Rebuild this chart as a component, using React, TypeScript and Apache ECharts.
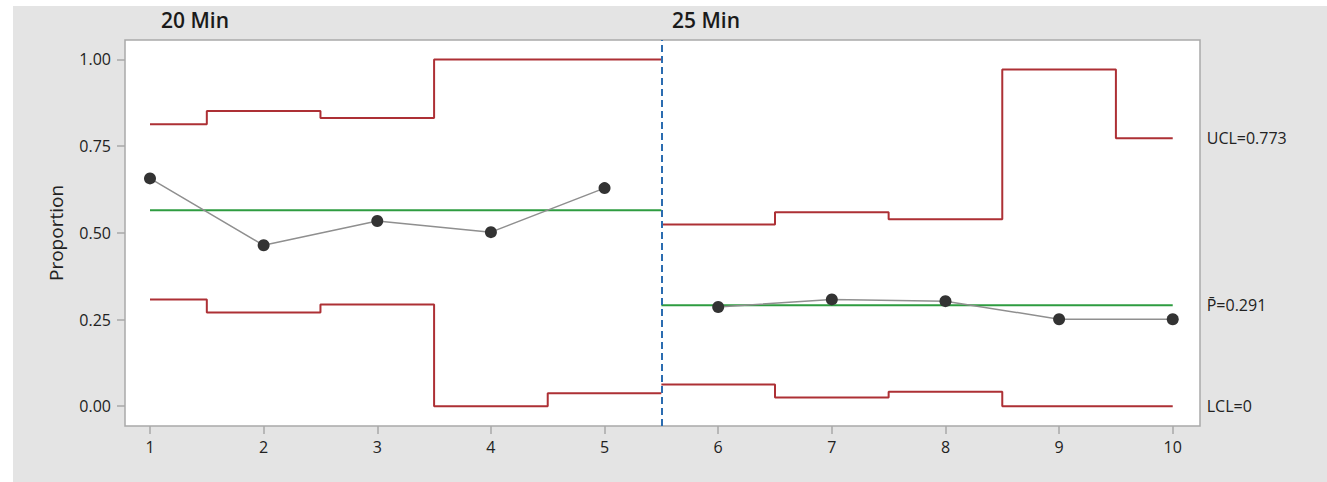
import React, { useEffect, useRef } from "react";
import * as echarts from "echarts";

// ---- data ----
const stageNames = ["20 Min", "25 Min"];
const stage1X = [1, 2, 3, 4, 5];
const stage2X = [6, 7, 8, 9, 10];
const stage1P = [0.657, 0.464, 0.534, 0.502, 0.629];
const stage2P = [0.286, 0.308, 0.303, 0.251, 0.251];
const stage1UCL = [0.813, 0.851, 0.831, 1.0, 1.0];
const stage2UCL = [0.524, 0.559, 0.539, 0.971, 0.773];
const stage1LCL = [0.308, 0.27, 0.293, 0, 0.0375];
const stage2LCL = [0.063, 0.025, 0.042, 0, 0];
const stageCenters = [0.565, 0.291];
const stageBoundary = 5.5;
const xTicks = [1, 2, 3, 4, 5, 6, 7, 8, 9, 10];
const yTicks = [0, 0.25, 0.5, 0.75, 1.0];

const FONT = "'Open Sans', 'Noto Sans', sans-serif";
const RED = "#ad3035";
const GREEN = "#2e9c40";
const BLUE = "#2b6cb0";
const TXT = "#222222";

function stepData(xs: number[], vals: number[], start: number, end: number) {
  const pts: number[][] = [[start, vals[0]]];
  for (let i = 0; i < xs.length; i++) {
    const right = i < xs.length - 1 ? (xs[i] + xs[i + 1]) / 2 : end;
    pts.push([right, vals[i]]);
    if (i < xs.length - 1) pts.push([right, vals[i + 1]]);
  }
  return pts;
}

function fmt(v: number) {
  return String(Number(v.toFixed(3)));
}

export default function App() {
  const ref = useRef<HTMLDivElement>(null);
  useEffect(() => {
    if (!ref.current) return;
    const chart = echarts.init(ref.current, undefined, { renderer: "svg" });
    const s1Start = stage1X[0];
    const s2End = stage2X[stage2X.length - 1];
    const endLbl = (label?: string) =>
      label
        ? {
            show: true,
            formatter: label,
            distance: 34,
            color: TXT,
            fontSize: 16,
            fontFamily: FONT,
          }
        : { show: false };
    const limitLine = (data: number[][], label?: string) => ({
      type: "line",
      data,
      symbol: "none",
      silent: true,
      lineStyle: { color: RED, width: 2 },
      z: 2,
      endLabel: endLbl(label),
    });
    const centerLine = (data: number[][], label?: string) => ({
      type: "line",
      data,
      symbol: "none",
      silent: true,
      lineStyle: { color: GREEN, width: 2 },
      z: 2,
      endLabel: endLbl(label),
    });
    const pointLine = (xs: number[], ps: number[]) => ({
      type: "line",
      data: xs.map((x, i) => [x, ps[i]]),
      symbol: "circle",
      symbolSize: 12,
      itemStyle: { color: "#333333" },
      lineStyle: { color: "#8f8f8f", width: 1.5 },
      z: 4,
    });

    chart.setOption({
      animation: false,
      backgroundColor: "transparent",
      grid: {
        left: 125,
        right: 127,
        top: 40,
        bottom: 56,
        show: true,
        backgroundColor: "#ffffff",
        borderColor: "#a9a9a9",
        borderWidth: 1.5,
      },
      xAxis: {
        type: "value",
        min: 0.78,
        max: 10.24,
        splitLine: { show: false },
        axisLine: { show: false, onZero: false },
        axisTick: {
          show: true,
          customValues: xTicks,
          length: 8,
          lineStyle: { color: "#a9a9a9", width: 1.5 },
        },
        axisLabel: {
          customValues: xTicks,
          margin: 13,
          color: TXT,
          fontSize: 16,
          fontFamily: FONT,
          formatter: (v: number) => String(v),
        },
      },
      yAxis: {
        type: "value",
        min: -0.057,
        max: 1.056,
        name: "Proportion",
        nameLocation: "middle",
        nameGap: 60,
        nameTextStyle: { color: TXT, fontSize: 19, fontFamily: FONT },
        splitLine: { show: false },
        axisLine: { show: false, onZero: false },
        axisTick: {
          show: true,
          customValues: yTicks,
          length: 8,
          lineStyle: { color: "#a9a9a9", width: 1.5 },
        },
        axisLabel: {
          customValues: yTicks,
          margin: 14,
          color: TXT,
          fontSize: 16,
          fontFamily: FONT,
          formatter: (v: number) => v.toFixed(2),
        },
      },
      graphic: [
        {
          type: "text",
          left: 161,
          top: 9,
          style: {
            text: stageNames[0],
            fill: "#1a1a1a",
            fontSize: 21,
            fontWeight: 600,
            fontFamily: FONT,
          },
        },
        {
          type: "text",
          left: 672,
          top: 9,
          style: {
            text: stageNames[1],
            fill: "#1a1a1a",
            fontSize: 21,
            fontWeight: 600,
            fontFamily: FONT,
          },
        },
      ],
      series: [
        limitLine(stepData(stage1X, stage1UCL, s1Start, stageBoundary)),
        limitLine(
          stepData(stage2X, stage2UCL, stageBoundary, s2End),
          "UCL=" + fmt(stage2UCL[stage2UCL.length - 1])
        ),
        limitLine(stepData(stage1X, stage1LCL, s1Start, stageBoundary)),
        limitLine(
          stepData(stage2X, stage2LCL, stageBoundary, s2End),
          "LCL=" + fmt(stage2LCL[stage2LCL.length - 1])
        ),
        centerLine([
          [s1Start, stageCenters[0]],
          [stageBoundary, stageCenters[0]],
        ]),
        centerLine(
          [
            [stageBoundary, stageCenters[1]],
            [s2End, stageCenters[1]],
          ],
          "P\u0304=" + fmt(stageCenters[1])
        ),
        pointLine(stage1X, stage1P),
        {
          ...pointLine(stage2X, stage2P),
          markLine: {
            silent: true,
            symbol: "none",
            label: { show: false },
            lineStyle: { color: BLUE, width: 2, type: [7, 4] },
            data: [{ xAxis: stageBoundary }],
          },
        },
      ],
    });
    return () => chart.dispose();
  }, []);

  return (
    <div
      style={{
        position: "fixed",
        left: 0,
        top: 0,
        width: 1327,
        height: 482,
        background: "#ffffff",
      }}
    >
      <div
        style={{
          position: "absolute",
          left: 13,
          top: 6,
          width: 1314,
          height: 476,
          background: "#e4e4e4",
        }}
      />
      <div
        ref={ref}
        style={{ position: "absolute", left: 0, top: 0, width: 1327, height: 482 }}
      />
    </div>
  );
}
